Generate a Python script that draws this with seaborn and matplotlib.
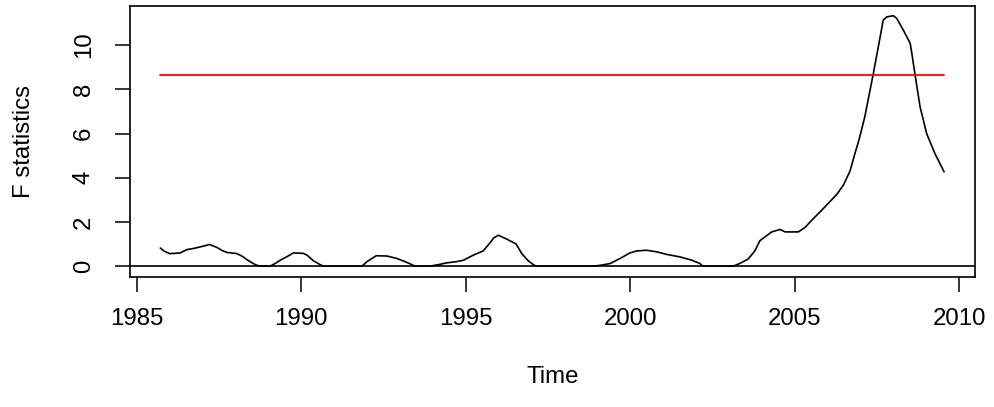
import matplotlib
matplotlib.use("Agg")
import matplotlib.pyplot as plt
import seaborn as sns
import pandas as pd

# --- data ---
years = [1985.71, 1985.83, 1985.99, 1986.15, 1986.32, 1986.52, 1986.72, 1986.92,
         1987.21, 1987.43, 1987.60, 1987.74, 1988.04, 1988.20, 1988.34, 1988.50,
         1988.63, 1988.75, 1989.05, 1989.20, 1989.36, 1989.55, 1989.76, 1990.06,
         1990.17, 1990.37, 1990.57, 1990.67, 1991.84, 1991.99, 1992.15, 1992.27,
         1992.60, 1992.90, 1993.16, 1993.36, 1993.45, 1993.90, 1994.17, 1994.42,
         1994.70, 1994.93, 1995.23, 1995.53, 1995.72, 1995.85, 1995.99, 1996.25,
         1996.53, 1996.70, 1996.90, 1997.05, 1997.14, 1998.90, 1999.13, 1999.39,
         1999.69, 1999.99, 2000.20, 2000.50, 2000.80, 2001.11, 2001.51, 2001.87,
         2002.12, 2002.20, 2003.13, 2003.34, 2003.59, 2003.79, 2003.94, 2004.10,
         2004.30, 2004.55, 2004.71, 2005.11, 2005.31, 2005.52, 2005.87, 2006.28,
         2006.48, 2006.68, 2006.83, 2006.96, 2007.13, 2007.39, 2007.54, 2007.69,
         2007.80, 2008.00, 2008.10, 2008.30, 2008.51, 2008.56, 2008.66, 2008.81,
         2009.01, 2009.26, 2009.54]
fstats = [0.82, 0.68, 0.57, 0.58, 0.60, 0.75, 0.80, 0.87,
          0.98, 0.85, 0.70, 0.62, 0.57, 0.45, 0.30, 0.15,
          0.05, 0.00, 0.00, 0.12, 0.27, 0.42, 0.60, 0.58,
          0.50, 0.24, 0.07, 0.00, 0.00, 0.20, 0.35, 0.47,
          0.46, 0.35, 0.20, 0.07, 0.00, 0.00, 0.07, 0.15,
          0.20, 0.27, 0.50, 0.69, 1.03, 1.28, 1.40, 1.22,
          1.00, 0.57, 0.24, 0.07, 0.00, 0.00, 0.05, 0.12,
          0.35, 0.60, 0.69, 0.72, 0.65, 0.53, 0.42, 0.27,
          0.12, 0.00, 0.00, 0.13, 0.33, 0.70, 1.15, 1.33,
          1.55, 1.66, 1.55, 1.55, 1.75, 2.08, 2.61, 3.25,
          3.67, 4.30, 5.10, 5.75, 6.76, 8.72, 9.92, 11.13,
          11.28, 11.33, 11.21, 10.68, 10.08, 9.62, 8.64, 7.21,
          6.00, 5.10, 4.27]
boundary_years = [1985.71, 2009.54]
boundary_values = [8.67, 8.67]
x_ticks = [1985, 1990, 1995, 2000, 2005, 2010]
y_ticks = [0, 2, 4, 6, 8, 10]
x_label = "Time"
y_label = "F statistics"

sns.set_style("white")
plt.rcParams['font.family'] = ['Liberation Sans', 'DejaVu Sans']

fig = plt.figure(figsize=(9.94, 4.07), dpi=100)
ax = fig.add_axes([130 / 994, 1 - 277 / 407, (975 - 130) / 994, (277 - 6) / 407])

df = pd.DataFrame({"Time": years, "F": fstats})
bdf = pd.DataFrame({"Time": boundary_years, "F": boundary_values})

sns.lineplot(data=df, x="Time", y="F", ax=ax, color="black", linewidth=1.2,
             estimator=None, sort=False)
sns.lineplot(data=bdf, x="Time", y="F", ax=ax, color="#ff0000", linewidth=1.3,
             estimator=None, sort=False)
ax.axhline(0, color="black", linewidth=1.2)

ax.set_xlim(1984.79, 2010.48)
ax.set_ylim(-0.49, 11.77)
ax.set_xticks(x_ticks)
ax.set_yticks(y_ticks)
ax.set_yticklabels([str(t) for t in y_ticks], rotation=90, va="center")

fs = 17.3
ax.tick_params(axis="both", direction="out", length=10.8, width=1.1,
               color="black", labelsize=fs, labelcolor="black", pad=11.5,
               bottom=True, left=True)
ax.tick_params(axis="y", pad=14.5)
for sp in ax.spines.values():
    sp.set_visible(True)
    sp.set_color("black")
    sp.set_linewidth(1.2)

ax.set_xlabel(x_label, fontsize=fs, labelpad=26, color="black")
ax.set_ylabel(y_label, fontsize=fs, labelpad=27, color="black")

fig.savefig("out.png", dpi=100, facecolor="white")
